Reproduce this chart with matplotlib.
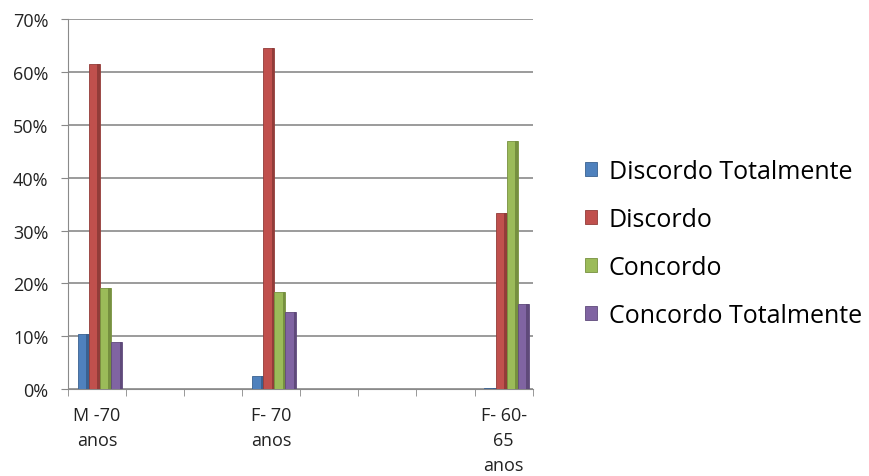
import numpy as np
import matplotlib
matplotlib.use("Agg")
import matplotlib.pyplot as plt
from matplotlib.ticker import PercentFormatter

plt.rcParams['font.family'] = ['Open Sans', 'DejaVu Sans']

categories = ["M -70\nanos", "", "", "F- 70\nanos", "", "", "", "F- 60-\n65\nanos"]
series = ["Discordo Totalmente", "Discordo", "Concordo", "Concordo Totalmente"]
discordo_totalmente = [10.5, np.nan, np.nan, 2.5, np.nan, np.nan, np.nan, 0.3]
discordo = [61.5, np.nan, np.nan, 64.5, np.nan, np.nan, np.nan, 33.3]
concordo = [19.2, np.nan, np.nan, 18.4, np.nan, np.nan, np.nan, 47.0]
concordo_totalmente = [9.0, np.nan, np.nan, 14.6, np.nan, np.nan, np.nan, 16.1]
values = [discordo_totalmente, discordo, concordo, concordo_totalmente]
colors = ["#4F81BD", "#C0504D", "#9BBB59", "#8064A2"]
side_colors = ["#3A6190", "#923C39", "#76903F", "#5F4A7A"]
yticks = [0, 10, 20, 30, 40, 50, 60, 70]

fig = plt.figure(figsize=(8.69, 4.77), dpi=100)
ax = fig.add_axes([0.078, 0.182, 0.535, 0.776])

x = np.arange(len(categories))
w = 0.19
sw = 0.04
offsets = (np.arange(4) - 1.5) * w + 0.05
for i, (name, vals) in enumerate(zip(series, values)):
    ax.bar(x + offsets[i], vals, width=w, color=colors[i], edgecolor=side_colors[i],
           linewidth=0.6, label=name, zorder=3)
    ax.bar(x + offsets[i] + w / 2 - sw / 2, vals, width=sw, color=side_colors[i],
           linewidth=0, zorder=4)

ax.set_xlim(-0.5, len(categories) - 0.5)
ax.set_ylim(0, 70)
ax.set_yticks(yticks)
ax.yaxis.set_major_formatter(PercentFormatter(decimals=0))
ax.set_xticks(x)
ax.set_xticklabels(categories, fontsize=13, color="#222222", linespacing=1.5)
ax.set_xticks(np.arange(len(categories) + 1) - 0.5, minor=True)
ax.tick_params(axis='x', which='major', length=0, pad=12)
ax.tick_params(axis='x', which='minor', length=5, color="#888888")
ax.tick_params(axis='y', length=5, color="#888888", labelsize=13, labelcolor="#222222", pad=9)
ax.grid(axis='y', color="#8a8a8a", linewidth=1.2, zorder=0)
for s in ["top", "right"]:
    ax.spines[s].set_visible(False)
ax.spines["left"].set_color("#8a8a8a")
ax.spines["bottom"].set_color("#8a8a8a")

fig.legend(*ax.get_legend_handles_labels(), loc="center left",
           bbox_to_anchor=(0.673, 0.488), bbox_transform=fig.transFigure, frameon=False,
           fontsize=18, handlelength=0.5, handleheight=0.5, handletextpad=0.45,
           labelspacing=0.92, borderpad=0, borderaxespad=0)

fig.savefig("out.png", dpi=100)
